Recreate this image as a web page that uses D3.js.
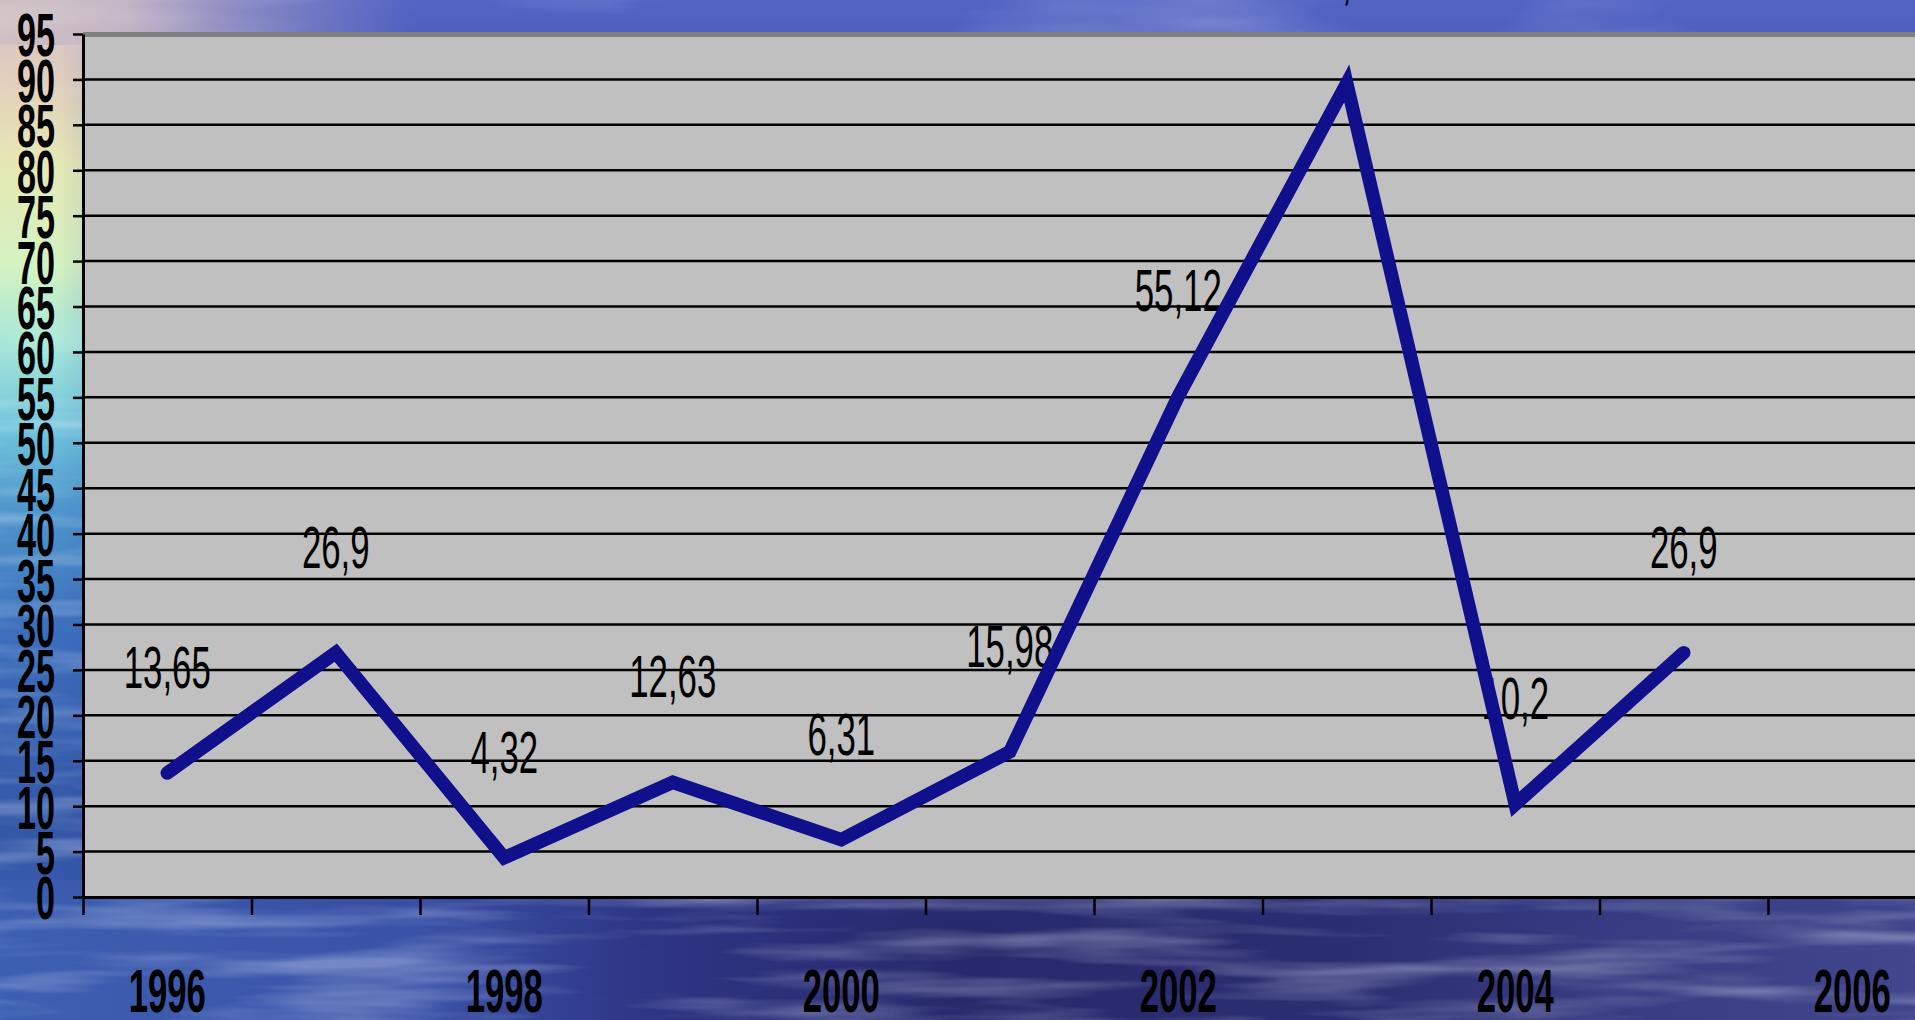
<!DOCTYPE html>
<html>
<head>
<meta charset="utf-8">
<script src="https://cdn.jsdelivr.net/npm/d3@7"></script>
<style>
  html, body { margin: 0; padding: 0; overflow: hidden; background: #34489e; }
  svg { display: block; }
</style>
</head>
<body>
<svg id="chart" width="1915" height="1020"></svg>
<script>
// Yearly series: categories, values and the axis ticks
const years = ["1996", "1997", "1998", "1999", "2000", "2001", "2002", "2003", "2004", "2005", "2006"];
const values = [13.65, 26.9, 4.32, 12.63, 6.31, 15.98, 55.12, 89.56, 10.2, 26.9];
const yTickValues = [0, 5, 10, 15, 20, 25, 30, 35, 40, 45, 50, 55, 60, 65, 70, 75, 80, 85, 90, 95];
const xLabelYears = ["1996", "1998", "2000", "2002", "2004", "2006"];

const W = 1915, H = 1020;
const plot = { left: 83, top: 34, bottom: 897, band: 168.5 };
plot.right = plot.left + years.length * plot.band;

const svg = d3.select("#chart");
const defs = svg.append("defs");

// ---------- backdrop: sky over sea ----------
function linGrad(id, stops, x2, y2) {
  const g = defs.append("linearGradient").attr("id", id)
    .attr("x1", 0).attr("y1", 0).attr("x2", x2).attr("y2", y2);
  stops.forEach(([o, c, a]) => g.append("stop").attr("offset", o)
    .attr("stop-color", c).attr("stop-opacity", a == null ? 1 : a));
  return g;
}
linGrad("skySea", [[0, "#5464c4"], [0.05, "#4c5cbe"], [0.45, "#3a56ae"], [0.75, "#32479c"], [0.9, "#2e3a8a"], [1, "#2a3276"]], 0, 1);
linGrad("pastel", [[0, "#d4c2c8"], [0.08, "#e2cfbc"], [0.16, "#e6e8b4"], [0.26, "#d4f2c0"], [0.34, "#a4e6d8"], [0.42, "#70c4dc"], [0.5, "#4e96cc"], [0.62, "#3c6ebc"], [0.8, "#3458a8"], [1, "#3a5ab0"]], 0, 1);
linGrad("pastelFade", [[0, "#fff", 1], [0.14, "#fff", 1], [0.5, "#fff", 0.35], [1, "#fff", 0]], 1, 0);
linGrad("dawn", [[0, "#ccbcbc", 1], [0.3, "#c0b0c0", 0.9], [0.6, "#8e8cc4", 0.6], [1, "#5a68c2", 0]], 1, 0);
linGrad("seaBand", [[0, "#3d5fb2"], [0.22, "#3a52a8"], [0.34, "#2e3584"], [0.5, "#28296c"], [0.7, "#2c2e72"], [0.85, "#383c82"], [1, "#42468c"]], 1, 0);
linGrad("seaFade", [[0, "#fff", 0.6], [0.3, "#fff", 1], [1, "#fff", 1]], 0, 1);

defs.append("mask").attr("id", "fadeLeft")
  .append("rect").attr("width", 420).attr("height", H).attr("fill", "url(#pastelFade)");
defs.append("mask").attr("id", "fadeTop")
  .append("rect").attr("y", 880).attr("width", W).attr("height", 140).attr("fill", "url(#seaFade)");

// rippled water
const waves = defs.append("filter").attr("id", "waves")
  .attr("x", 0).attr("y", 0).attr("width", "100%").attr("height", "100%");
waves.append("feTurbulence").attr("type", "fractalNoise")
  .attr("baseFrequency", "0.004 0.045").attr("numOctaves", 3).attr("seed", 11);
waves.append("feColorMatrix").attr("type", "matrix")
  .attr("values", "0 0 0 0 0.85  0 0 0 0 0.9  0 0 0 0 1  2.4 0 0 0 -1.05");

// soft clouds
const clouds = defs.append("filter").attr("id", "clouds")
  .attr("x", 0).attr("y", 0).attr("width", "100%").attr("height", "100%");
clouds.append("feTurbulence").attr("type", "fractalNoise")
  .attr("baseFrequency", "0.003 0.02").attr("numOctaves", 3).attr("seed", 4);
clouds.append("feColorMatrix").attr("type", "matrix")
  .attr("values", "0 0 0 0 0.9  0 0 0 0 0.92  0 0 0 0 1  2.0 0 0 0 -0.95");

const bg = svg.append("g").attr("class", "backdrop");
bg.append("rect").attr("width", W).attr("height", H).attr("fill", "url(#skySea)");
bg.append("rect").attr("width", 420).attr("height", H).attr("fill", "url(#pastel)").attr("mask", "url(#fadeLeft)");
bg.append("rect").attr("width", 420).attr("height", 45).attr("fill", "url(#dawn)");
bg.append("rect").attr("y", 880).attr("width", W).attr("height", 140).attr("fill", "url(#seaBand)").attr("mask", "url(#fadeTop)");
bg.append("rect").attr("width", W).attr("height", 380).attr("filter", "url(#clouds)").attr("opacity", 0.3);
bg.append("rect").attr("y", 380).attr("width", W).attr("height", H - 380).attr("filter", "url(#waves)").attr("opacity", 0.32);

// ---------- scales ----------
const x = d3.scaleBand().domain(years).range([plot.left, plot.right]).paddingInner(0).paddingOuter(0);
const xEdge = d3.scaleLinear().domain([0, years.length]).range([plot.left, plot.right]);
const y = d3.scaleLinear().domain([0, 95]).range([plot.bottom, plot.top]);

// ---------- plot area ----------
svg.append("rect")
  .attr("x", plot.left).attr("y", plot.top)
  .attr("width", plot.right - plot.left).attr("height", plot.bottom - plot.top)
  .attr("fill", "#c0c0c0");
svg.append("line")
  .attr("x1", plot.left).attr("x2", plot.right)
  .attr("y1", plot.top + 0.5).attr("y2", plot.top + 0.5)
  .attr("stroke", "#808080").attr("stroke-width", 5);

// horizontal gridlines
svg.append("g").attr("class", "grid")
  .selectAll("line")
  .data(yTickValues.filter(v => v > 0 && v < 95))
  .join("line")
  .attr("x1", plot.left).attr("x2", plot.right)
  .attr("y1", d => y(d)).attr("y2", d => y(d))
  .attr("stroke", "#000").attr("stroke-width", 2.5);

const axisFont = "'Liberation Sans', Arial, sans-serif";
const SX = 0.56;   // narrow face for the tick numbers

// ---------- y axis ----------
const yAxis = svg.append("g")
  .attr("transform", `translate(${plot.left},0)`)
  .call(d3.axisLeft(y).tickValues(yTickValues).tickSize(10).tickSizeOuter(0).tickPadding(0));
yAxis.select(".domain").attr("stroke", "#000").attr("stroke-width", 3);
yAxis.selectAll(".tick line").attr("stroke", "#000").attr("stroke-width", 2.5);
yAxis.selectAll(".tick text")
  .attr("x", -28 / SX)
  .attr("dy", "0.36em")
  .attr("transform", `scale(${SX},1)`)
  .attr("text-anchor", "end")
  .attr("fill", "#000")
  .style("font-family", axisFont)
  .style("font-weight", "bold")
  .style("font-size", "61px");

// ---------- x axis: ticks on category edges ----------
const xAxis = svg.append("g")
  .attr("transform", `translate(0,${plot.bottom})`)
  .call(d3.axisBottom(xEdge).tickValues(d3.range(0, years.length + 1)).tickSize(18).tickSizeOuter(0).tickFormat(""));
xAxis.select(".domain").attr("stroke", "#000").attr("stroke-width", 3);
xAxis.selectAll(".tick line").attr("stroke", "#000").attr("stroke-width", 2.5);

// year labels, every second category
svg.append("g").attr("class", "x-labels")
  .selectAll("text")
  .data(xLabelYears)
  .join("text")
  .attr("transform", d => `translate(${x(d) + x.bandwidth() / 2},${plot.bottom + 93}) scale(${SX},1)`)
  .attr("dy", "0.36em")
  .attr("text-anchor", "middle")
  .attr("fill", "#000")
  .style("font-family", axisFont)
  .style("font-weight", "bold")
  .style("font-size", "62px")
  .text(d => d);

// ---------- value labels ----------
const points = values.map((v, i) => ({ year: years[i], value: v }));
svg.append("g").attr("class", "value-labels")
  .selectAll("text")
  .data(points)
  .join("text")
  .attr("transform", d => `translate(${x(d.year) + x.bandwidth() / 2},${y(d.value) - 85}) scale(0.58,1)`)
  .attr("text-anchor", "middle")
  .attr("fill", "#000")
  .style("font-family", axisFont)
  .style("font-size", "60px")
  .text(d => String(d.value).replace(".", ","));

// ---------- series line ----------
const line = d3.line()
  .x(d => x(d.year) + x.bandwidth() / 2)
  .y(d => y(d.value));
svg.append("path")
  .datum(points)
  .attr("d", line)
  .attr("fill", "none")
  .attr("stroke", "#10108c")
  .attr("stroke-width", 13.5)
  .attr("stroke-linejoin", "miter")
  .attr("stroke-miterlimit", 4)
  .attr("stroke-linecap", "round");
</script>
</body>
</html>
